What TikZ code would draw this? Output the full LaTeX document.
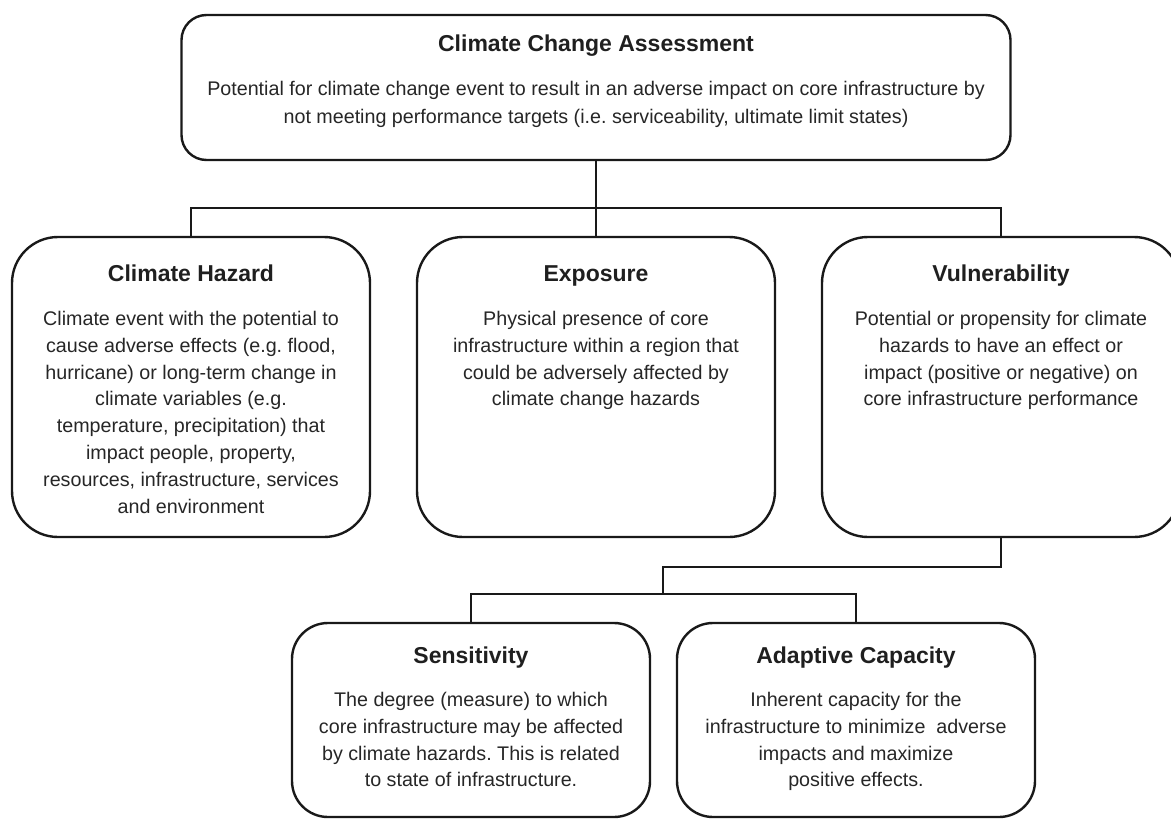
\documentclass[tikz,border=0pt]{standalone}
\usepackage{fontspec}
\setmainfont{Liberation Sans}
\frenchspacing
\begin{document}
\begin{tikzpicture}[
  x=1pt, y=-1pt,
  line width=2.4pt, color=black!90,
  link/.style={draw=black!90, line width=2.4pt},
  bigbox/.style={draw=black!90, rectangle, inner sep=0pt, rounded corners=25pt,
    minimum width=829pt, minimum height=145pt},
  midbox/.style={draw=black!90, rectangle, inner sep=0pt, rounded corners=46pt,
    minimum width=358pt, minimum height=300pt},
  lowbox/.style={draw=black!90, rectangle, inner sep=0pt, rounded corners=36pt,
    minimum width=358pt, minimum height=194pt},
  ttl/.style={anchor=base, inner sep=0pt, text=black!88,
    font=\fontsize{23}{27}\selectfont\bfseries},
  txt/.style={anchor=north, inner sep=0pt, align=center, text=black!85,
    font=\fontsize{19.7}{26.8}\selectfont},
]
\useasboundingbox (0,0) rectangle (1171,819);

% boxes
\node[bigbox] (top) at (596,87.5) {};
\node[midbox] (haz) at (191,387) {};
\node[midbox] (exp) at (596,387) {};
\node[midbox] (vul) at (1001,387) {};
\node[lowbox] (sen) at (471,720) {};
\node[lowbox] (ada) at (856,720) {};

% titles and descriptions
\node[ttl] (topT) at (596,51) {Climate Change Assessment};
\node[txt, font=\fontsize{19.7}{28}\selectfont] (topB) at (596,80)
  {Potential for climate change event to result in an adverse impact on core infrastructure by\\
   not meeting performance targets (i.e. serviceability, ultimate limit states)};

\node[ttl] (hazT) at (191,281) {Climate Hazard};
\node[txt] (hazB) at (191,310)
  {Climate event with the potential to\\
   cause adverse effects (e.g. flood,\\
   hurricane) or long-term change in\\
   climate variables (e.g.\\
   temperature, precipitation) that\\
   impact people, property,\\
   resources, infrastructure, services\\
   and environment};

\node[ttl] (expT) at (596,281) {Exposure};
\node[txt] (expB) at (596,310)
  {Physical presence of core\\
   infrastructure within a region that\\
   could be adversely affected by\\
   climate change hazards};

\node[ttl] (vulT) at (1001,281) {Vulnerability};
\node[txt] (vulB) at (1001,310)
  {Potential or propensity for climate\\
   hazards to have an effect or\\
   impact (positive or negative) on\\
   core infrastructure performance};

\node[ttl] (senT) at (471,663) {Sensitivity};
\node[txt] (senB) at (471,691)
  {The degree (measure) to which\\
   core infrastructure may be affected\\
   by climate hazards. This is related\\
   to state of infrastructure.};

\node[ttl] (adaT) at (856,663) {Adaptive Capacity};
\node[txt] (adaB) at (856,691)
  {Inherent capacity for the\\
   infrastructure to minimize\ \ adverse\\
   impacts and maximize\\
   positive effects.};

% connectors
\coordinate (busA) at (596,208);
\coordinate (drop) at (663,567);
\coordinate (busB) at (663,594);
\draw[link] (top.south) -- (exp.north);
\draw[link] (haz.north) |- (busA) -| (vul.north);
\draw[link] (vul.south) |- (drop) -- (busB);
\draw[link] (sen.north) |- (busB) -| (ada.north);
\end{tikzpicture}
\end{document}
